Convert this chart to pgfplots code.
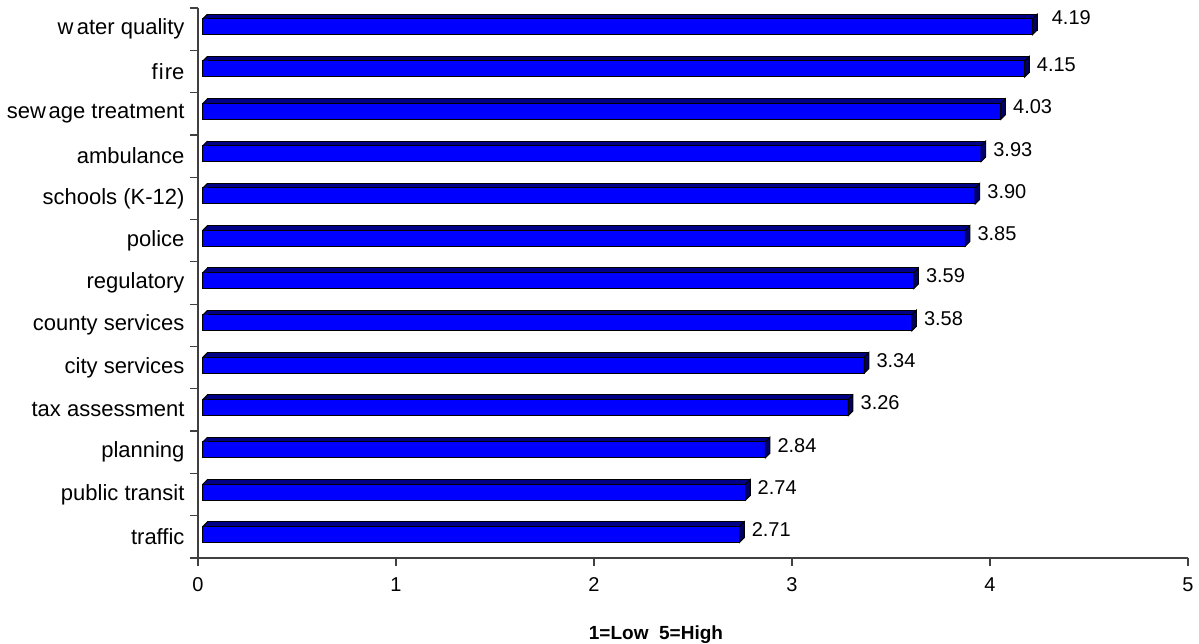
\documentclass[border=0pt]{standalone}
\usepackage{fontspec}
\setmainfont{Liberation Sans}
\usepackage{pgfplots}
\pgfplotsset{compat=1.18}
\usepackage{pgfplotstable}
\definecolor{barfront}{RGB}{0,0,255}
\definecolor{bartop}{RGB}{0,0,135}
\definecolor{barside}{RGB}{0,0,105}

\pgfplotstableread{
idx val
0 2.71
1 2.74
2 2.84
3 3.26
4 3.34
5 3.58
6 3.59
7 3.85
8 3.90
9 3.93
10 4.03
11 4.15
12 4.19
}\datatable

% right side face of a bar (relative to bar end, front-face centre)
\pgfdeclareplotmark{side3d}{%
  \pgfpathmoveto{\pgfpoint{5pt}{-5.5pt}}%
  \pgfpathlineto{\pgfpoint{5pt}{10.5pt}}%
  \pgfpathlineto{\pgfpoint{9.5pt}{15pt}}%
  \pgfpathlineto{\pgfpoint{9.5pt}{-1pt}}%
  \pgfpathclose
  \pgfusepathqfillstroke}
% left corner of the top face
\pgfdeclareplotmark{corner3d}{%
  \pgfpathmoveto{\pgfpoint{5pt}{10.5pt}}%
  \pgfpathlineto{\pgfpoint{9.5pt}{15pt}}%
  \pgfpathlineto{\pgfpoint{10.4pt}{14.3pt}}%
  \pgfpathlineto{\pgfpoint{10.4pt}{10.5pt}}%
  \pgfpathclose
  \pgfusepathqfill
  \pgfpathmoveto{\pgfpoint{5pt}{10.5pt}}%
  \pgfpathlineto{\pgfpoint{9.5pt}{15pt}}%
  \pgfusepathqstroke}

\begin{document}
\begin{tikzpicture}[font=\fontsize{20}{24}\selectfont]
\begin{axis}[
  scale only axis,
  width=990pt, height=550pt,
  xmin=0, xmax=5,
  ymin=-0.5, ymax=12.5,
  axis lines=left,
  axis line style={-, draw=black!75, line width=1.2pt},
  /pgf/number format/assume math mode=true,
  tick label style={font=\fontsize{20}{24}\selectfont},
  xticklabel style={yshift=-8pt},
  xtick={0,1,2,3,4,5},
  ytick={-0.5,0.5,...,12.5},
  yticklabels={},
  extra y ticks={0,1,2,3,4,5,6,7,8,9,10,11,12},
  extra y tick labels={traffic, public transit, planning, tax assessment, city services, county services, regulatory, police, schools (K-12), ambulance, {sew\hspace{0.12em}age treatment}, {f\hspace{0.05em}i\hspace{0.05em}re}, {w\hspace{0.15em}ater quality}},
  extra y tick style={tick style={draw=none}, yticklabel style={xshift=-2pt, font=\fontsize{22}{26}\selectfont}},
  tick align=outside,
  major tick length=8pt,
  tick style={draw=black!75, line width=1.2pt},
  xlabel={\textbf{1=Low\ \ 5=High}},
  xlabel style={at={(rel axis cs:0.4626,0)}, anchor=base, yshift=-82pt, font=\fontsize{19}{23}\selectfont\bfseries},
  clip=false,
]
% top face (back rectangle)
\addplot[xbar, bar width=16pt, bar shift=7pt, xshift=9.5pt, fill=bartop, draw=black, line width=1pt]
  table[x=val, y=idx] {\datatable};
% left corner of top face
\addplot[only marks, mark=corner3d, mark options={fill=bartop, draw=black, line width=1pt}]
  table[x expr=0, y=idx] {\datatable};
% right side face
\addplot[only marks, mark=side3d, mark options={fill=barside, draw=black, line width=1pt}]
  table[x=val, y=idx] {\datatable};
% front face
\addplot[xbar, bar width=16pt, bar shift=2.5pt, xshift=5pt, fill=barfront, draw=black, line width=1pt]
  table[x=val, y=idx] {\datatable};
% value labels
\addplot[draw=none, mark=none, skip coords between index={12}{13},
  point meta=x, nodes near coords,
  nodes near coords style={anchor=base west, inner sep=0pt, xshift=17pt, yshift=0pt,
    font=\fontsize{20}{24}\selectfont,
    /pgf/number format/.cd, fixed, fixed zerofill, precision=2, assume math mode=true}]
  table[x=val, y=idx] {\datatable};
\addplot[draw=none, mark=none, skip coords between index={0}{12},
  point meta=x, nodes near coords,
  nodes near coords style={anchor=base west, inner sep=0pt, xshift=24pt, yshift=5pt,
    font=\fontsize{20}{24}\selectfont,
    /pgf/number format/.cd, fixed, fixed zerofill, precision=2, assume math mode=true}]
  table[x=val, y=idx] {\datatable};
\end{axis}
\pgfresetboundingbox
\path ([xshift=-198pt,yshift=-86pt]current axis.south west) rectangle ([xshift=11pt,yshift=8pt]current axis.north east);
\end{tikzpicture}
\end{document}
